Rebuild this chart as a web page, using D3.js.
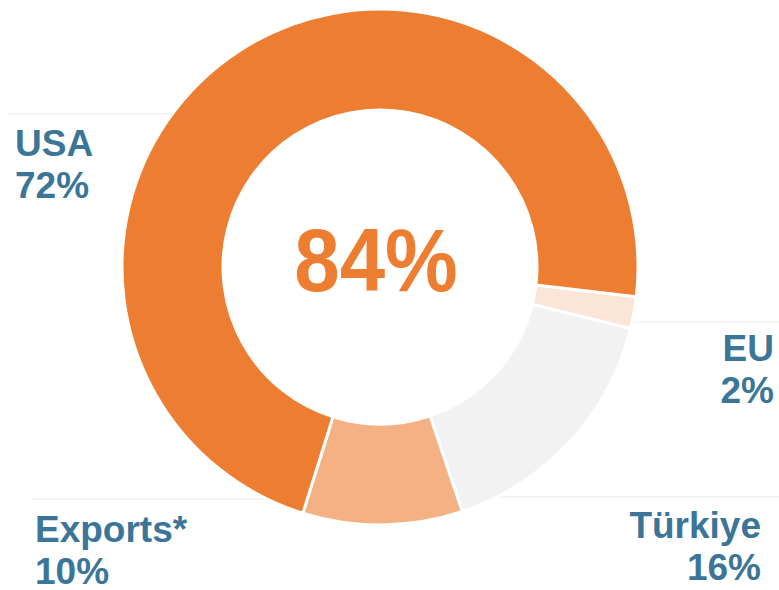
<!DOCTYPE html>
<meta charset="utf-8">
<style>
body { margin: 0; background: #fff; }
text { font-family: "Liberation Sans", Arial, sans-serif; font-weight: bold; }
</style>
<body>
<div id="chart"></div>
<script src="https://d3js.org/d3.v7.min.js"></script>
<script>

// slice order follows the picture, clockwise from just below 3 o'clock
var categories = ['EU', 'Türkiye', 'Exports*', 'USA'];
var shares = [2, 16, 10, 72];
var shareLabels = ['2%', '16%', '10%', '72%'];
var sliceColors = ['#FBE5D6', '#F2F2F2', '#F4B183', '#ED7D31'];
var centerLabel = '84%';

var width = 779, height = 590;
var cx = 380, cy = 267, outerR = 258, innerR = 157;
var labelColor = '#3B7597';

var svg = d3.select('#chart').append('svg')
  .attr('width', width)
  .attr('height', height);

// thin guide lines sit behind the ring
var guides = [
  {x1: 8, x2: 330, y: 114},
  {x1: 560, x2: 779, y: 322},
  {x1: 33, x2: 330, y: 499},
  {x1: 430, x2: 779, y: 497}
];
svg.selectAll('line.guide').data(guides).enter().append('line')
  .attr('class', 'guide')
  .attr('x1', d => d.x1).attr('x2', d => d.x2)
  .attr('y1', d => d.y).attr('y2', d => d.y)
  .style('stroke', '#ECECEC')
  .style('stroke-width', 1.2);

var start = 96.6 * Math.PI / 180;
var pie = d3.pie().sort(null).value(d => d)
  .startAngle(start).endAngle(start + 2 * Math.PI);
var arc = d3.arc().innerRadius(innerR).outerRadius(outerR);

var g = svg.append('g').attr('transform', 'translate(' + cx + ',' + cy + ')');
g.selectAll('path').data(pie(shares)).enter().append('path')
  .attr('d', arc)
  .style('fill', (d, i) => sliceColors[i])
  .style('stroke', '#fff')
  .style('stroke-width', 3);

// big centre number, a touch narrower and taller than plain Arial
svg.append('text')
  .attr('transform', 'translate(376,291) scale(0.95,1.04)')
  .attr('text-anchor', 'middle')
  .style('font-size', '86px')
  .style('fill', '#ED7D31')
  .text(centerLabel);

// label positions, one per category
var labelPos = [
  {x: 774, y: 361, anchor: 'end'},
  {x: 761, y: 538, anchor: 'end'},
  {x: 35, y: 542, anchor: 'start'},
  {x: 15, y: 156, anchor: 'start'}
];
var lab = svg.selectAll('g.lab').data(categories).enter().append('g').attr('class', 'lab');
lab.append('text')
  .attr('x', (d, i) => labelPos[i].x)
  .attr('y', (d, i) => labelPos[i].y)
  .attr('text-anchor', (d, i) => labelPos[i].anchor)
  .style('font-size', '37px')
  .style('fill', labelColor)
  .text(d => d);
lab.append('text')
  .attr('x', (d, i) => labelPos[i].x)
  .attr('y', (d, i) => labelPos[i].y + 42)
  .attr('text-anchor', (d, i) => labelPos[i].anchor)
  .style('font-size', '37px')
  .style('fill', labelColor)
  .text((d, i) => shareLabels[i]);

</script>
</body>
